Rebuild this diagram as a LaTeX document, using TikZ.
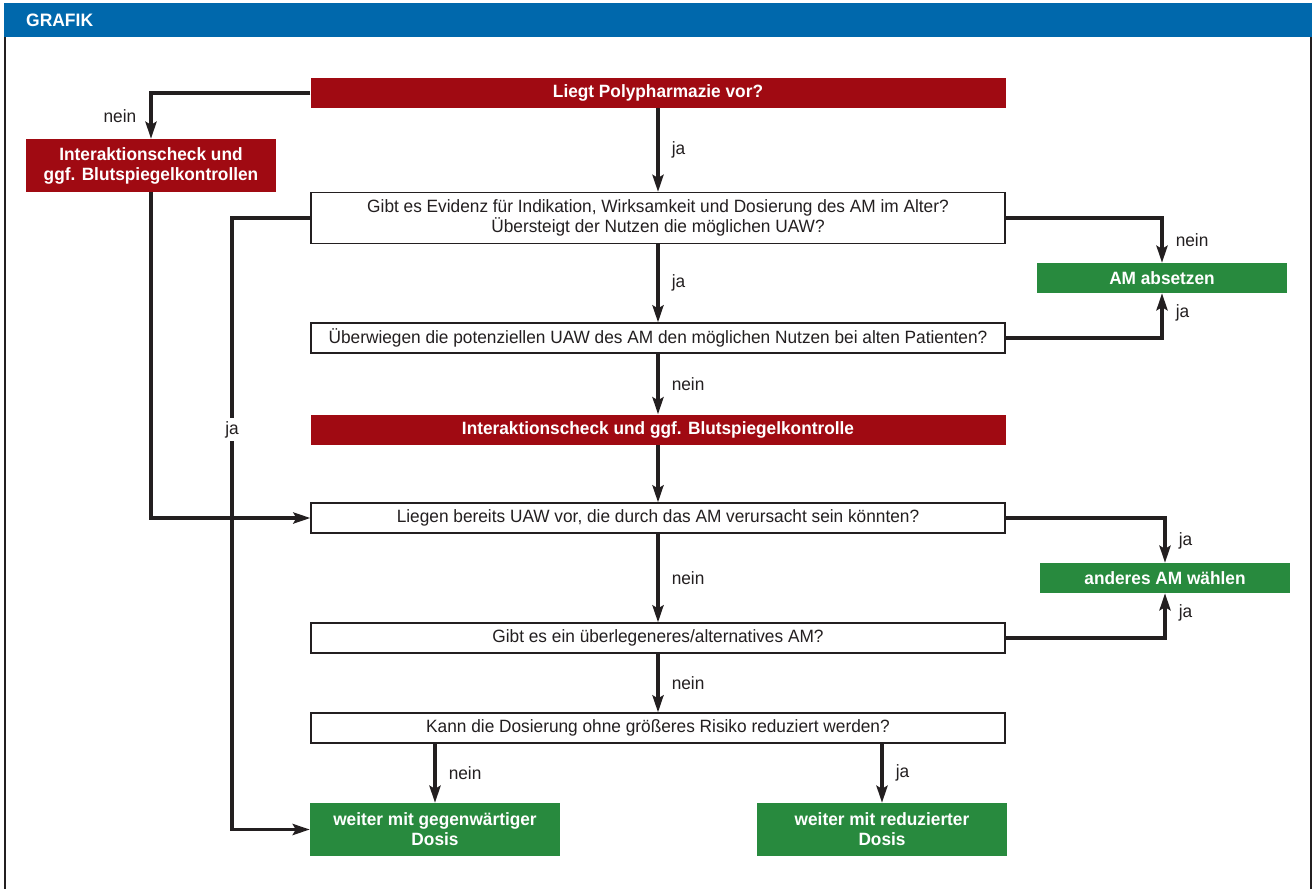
\documentclass[tikz,border=0pt]{standalone}
\usepackage{fontspec}
\setmainfont{Liberation Sans}[FakeStretch=0.97]
\usepackage{tikz}
\usetikzlibrary{arrows.meta,positioning}
\definecolor{grafikblau}{RGB}{0,104,172}
\definecolor{pmrot}{RGB}{160,10,18}
\definecolor{pmgruen}{RGB}{40,138,62}
\definecolor{pmlinie}{RGB}{35,31,32}

\begin{document}
\begin{tikzpicture}[x=1pt, y=-1pt,
  >={Stealth[length=17pt, width=11pt, inset=3pt]},
  txt/.style={font=\fontsize{17.8}{20}\selectfont},
  rotbox/.style={txt, fill=pmrot, text=white, font=\bfseries\fontsize{17.8}{20}\selectfont, align=center, inner sep=0pt, minimum width=695pt, minimum height=30pt},
  gruenbox/.style={rotbox, fill=pmgruen, minimum width=250pt},
  frage/.style={txt, draw=pmlinie, line width=1.2pt, fill=white, text=pmlinie, align=center, inner sep=0pt, minimum width=694pt, minimum height=30pt},
  pfeil/.style={->, draw=pmlinie, line width=3.5pt},
  lbl/.style={txt, text=pmlinie, inner sep=0pt}]
\useasboundingbox (0,0) rectangle (1313,889);
\fill[grafikblau] (4,3) rectangle (1312,37);
\node (grafik) [anchor=west, text=white, inner sep=0pt, font=\bfseries\fontsize{18}{20}\selectfont] at (26,20) {GRAFIK};
\draw[pmlinie, line width=2pt] (5,37) -- (5,889);
\draw[pmlinie, line width=2pt] (1311,37) -- (1311,889);

\node (poly) [rotbox] at (658,93) {Liegt Polypharmazie vor?};
\node (check1) [rotbox, minimum width=250pt, minimum height=53pt] at (151,165.5) {Interaktionscheck und\\ggf. Blutspiegelkontrollen};
\node (evidenz) [frage, minimum height=51pt] at (658,218) {Gibt es Evidenz für Indikation, Wirksamkeit und Dosierung des AM im Alter?\\Übersteigt der Nutzen die möglichen UAW?};
\node (absetzen) [gruenbox] at (1162,278) {AM absetzen};
\node (nutzen) [frage] at (658,338) {Überwiegen die potenziellen UAW des AM den möglichen Nutzen bei alten Patienten?};
\node (check2) [rotbox] at (658,429.5) {Interaktionscheck und ggf. Blutspiegelkontrolle};
\node (uaw) [frage] at (658,518) {Liegen bereits UAW vor, die durch das AM verursacht sein könnten?};
\node (anderes) [gruenbox] at (1165,578) {anderes AM wählen};
\node (alternativ) [frage] at (658,638) {Gibt es ein überlegeneres/alternatives AM?};
\node (dosis) [frage] at (658,728) {Kann die Dosierung ohne größeres Risiko reduziert werden?};
\node (gegenw) [gruenbox, minimum height=53pt] at (435,829.5) {weiter mit gegenwärtiger\\Dosis};
\node (reduz) [gruenbox, minimum height=53pt] at (882,829.5) {weiter mit reduzierter\\Dosis};
\coordinate (jaknick) at (232,218);

\draw[pfeil] (poly.west) -| (check1.north) node[lbl, pos=0.75, left=13pt] {nein};
\draw[pfeil] (poly.south) -- (evidenz.north) node[lbl, midway, right=12pt] {ja};
\draw[pfeil] (evidenz.east) -| (absetzen.north) node[lbl, pos=0.75, right=12pt] {nein};
\draw[pfeil] (evidenz.south) -- (nutzen.north) node[lbl, midway, right=12pt] {ja};
\draw[pfeil] (nutzen.east) -| (absetzen.south) node[lbl, pos=0.78, right=12pt] {ja};
\draw[pfeil] (nutzen.south) -- (check2.north) node[lbl, midway, right=12pt] {nein};
\draw[pfeil] (check2.south) -- (uaw.north);
\draw[pfeil] (check1.south) |- (uaw.west);
\draw[pfeil] (evidenz.west) -- (jaknick) |- (gegenw.west) node[lbl, pos=0.173, fill=white, inner sep=3pt] {ja};
\draw[pfeil] (uaw.east) -| (anderes.north) node[lbl, pos=0.75, right=12pt] {ja};
\draw[pfeil] (uaw.south) -- (alternativ.north) node[lbl, midway, right=12pt] {nein};
\draw[pfeil] (alternativ.east) -| (anderes.south) node[lbl, pos=0.78, right=12pt] {ja};
\draw[pfeil] (alternativ.south) -- (dosis.north) node[lbl, midway, right=12pt] {nein};
\draw[pfeil] (gegenw.north |- dosis.south) -- (gegenw.north) node[lbl, midway, right=12pt] {nein};
\draw[pfeil] (reduz.north |- dosis.south) -- (reduz.north) node[lbl, midway, right=12pt] {ja};
\end{tikzpicture}
\end{document}
